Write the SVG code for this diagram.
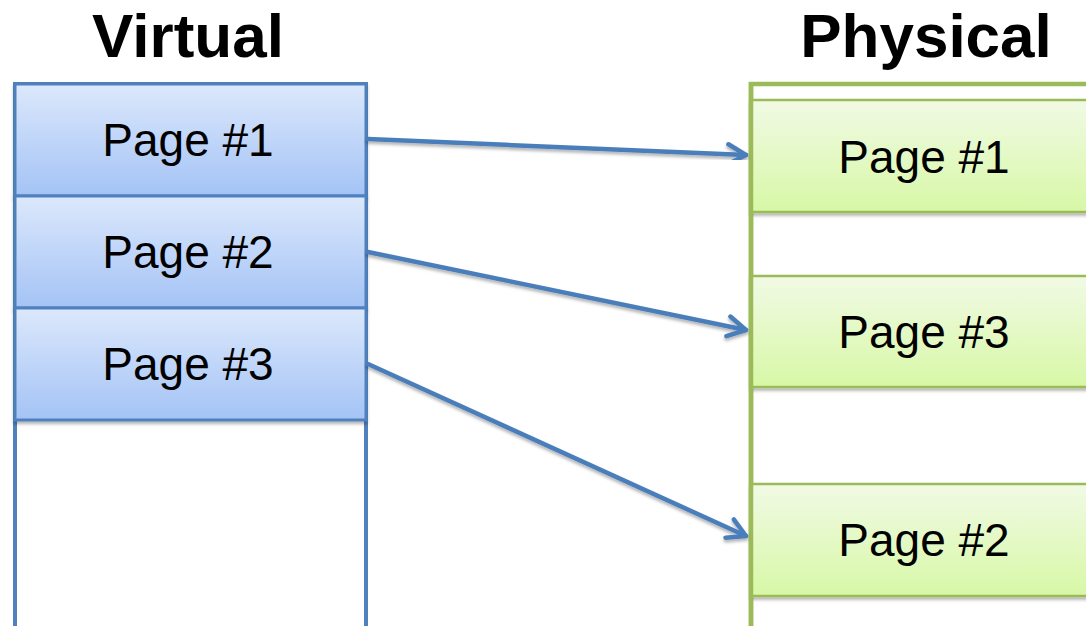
<svg xmlns="http://www.w3.org/2000/svg" width="1086" height="626" viewBox="0 0 1086 626">
  <defs>
    <linearGradient id="blueFill" x1="0" y1="0" x2="0" y2="1">
      <stop offset="0" stop-color="#dce8fc"/>
      <stop offset="1" stop-color="#a4c3f5"/>
    </linearGradient>
    <linearGradient id="greenFill" x1="0" y1="0" x2="0" y2="1">
      <stop offset="0" stop-color="#f1fae5"/>
      <stop offset="1" stop-color="#d7f8a6"/>
    </linearGradient>
    <filter id="shadow" x="-10%" y="-20%" width="120%" height="150%">
      <feDropShadow dx="0" dy="2.5" stdDeviation="1.8" flood-color="#000" flood-opacity="0.3"/>
    </filter>
    <marker id="chevron" markerUnits="userSpaceOnUse" viewBox="-26 -16 30 32" refX="0" refY="0" markerWidth="30" markerHeight="32" orient="auto" overflow="visible">
      <path d="M-18,-10 L0,0 L-18,10" fill="none" stroke="#4a7ebb" stroke-width="4.5" stroke-linejoin="round" stroke-linecap="round"/>
    </marker>
  </defs>
  <style>
    .title { font-family: "Liberation Sans", Arial, sans-serif; font-weight: bold; font-size: 62px; fill: #000; text-anchor: middle; }
    .label { font-family: "Liberation Sans", Arial, sans-serif; font-size: 46px; fill: #000; text-anchor: middle; }
    .vframe { fill: #fff; stroke: #4f81bd; stroke-width: 4; }
    .pframe { fill: #fff; stroke: #9bbb59; stroke-width: 4.5; }
    .vpage { fill: url(#blueFill); stroke: #4f81bd; stroke-width: 3; filter: url(#shadow); }
    .ppage { fill: url(#greenFill); stroke: #9bbb59; stroke-width: 2.5; filter: url(#shadow); }
    .edge { fill: none; stroke: #9bbb59; stroke-width: 4.5; }
    .link { fill: none; stroke: #4a7ebb; stroke-width: 4.5; stroke-linecap: round; marker-end: url(#chevron); filter: url(#shadow); }
  </style>

  <rect width="1086" height="626" fill="#fff"/>

  <!-- virtual address space -->
  <g id="virtual">
    <text class="title" x="188" y="57">Virtual</text>
    <rect class="vframe" x="15" y="84" width="351" height="580"/>
  </g>
  <g id="v-page1">
    <rect class="vpage" x="15" y="84" width="351" height="112"/>
    <text class="label" x="188" y="156">Page #1</text>
  </g>
  <g id="v-page2">
    <rect class="vpage" x="15" y="196" width="351" height="112"/>
    <text class="label" x="188" y="268">Page #2</text>
  </g>
  <g id="v-page3">
    <rect class="vpage" x="15" y="308" width="351" height="112"/>
    <text class="label" x="188" y="380">Page #3</text>
  </g>

  <!-- physical memory -->
  <g id="physical">
    <text class="title" x="926" y="57">Physical</text>
    <rect class="pframe" x="751" y="84" width="400" height="580"/>
  </g>
  <g id="p-page1">
    <rect class="ppage" x="751" y="100" width="400" height="112"/>
    <text class="label" x="924" y="173">Page #1</text>
  </g>
  <g id="p-page3">
    <rect class="ppage" x="751" y="276" width="400" height="111"/>
    <text class="label" x="924" y="348">Page #3</text>
  </g>
  <g id="p-page2">
    <rect class="ppage" x="751" y="484" width="400" height="112"/>
    <text class="label" x="924" y="556">Page #2</text>
  </g>
  <!-- left edge of physical memory, drawn over the page boxes -->
  <line class="edge" x1="751" y1="82" x2="751" y2="640"/>

  <!-- page mappings -->
  <g id="connectors">
    <line class="link" x1="368" y1="139" x2="746" y2="155"/>
    <line class="link" x1="368" y1="252" x2="746" y2="330"/>
    <line class="link" x1="368" y1="364" x2="746" y2="536"/>
  </g>
</svg>
